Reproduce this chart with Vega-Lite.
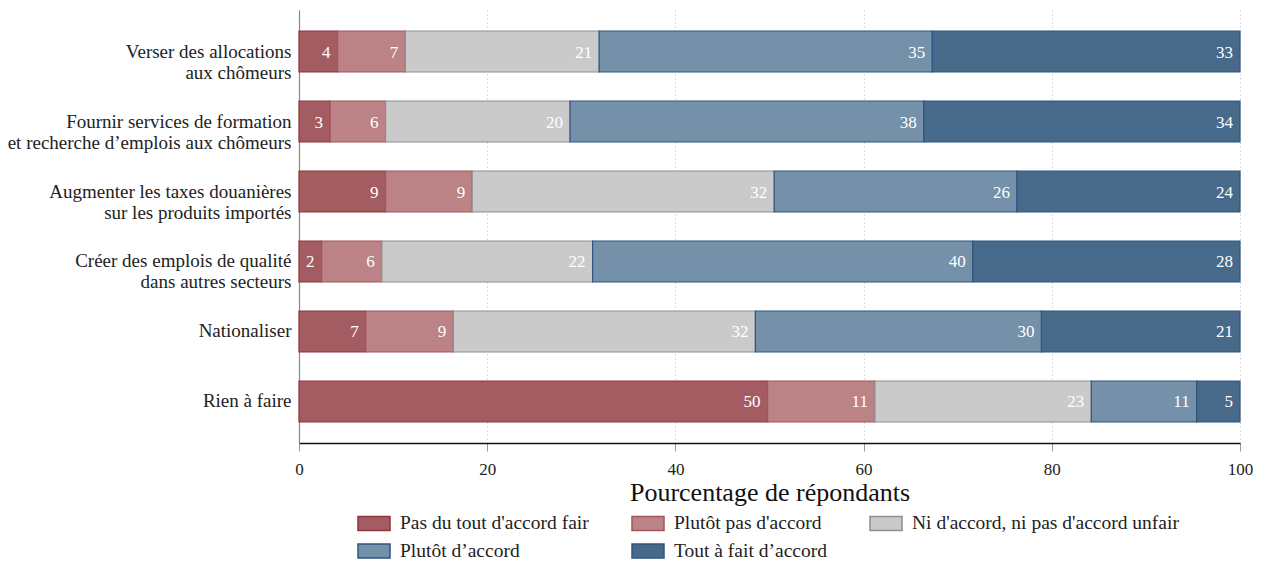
{
  "$schema": "https://vega.github.io/schema/vega-lite/v6.json",
  "width": 941,
  "height": 433,
  "autosize": {"type": "none"},
  "padding": {"left": 299, "top": 10, "right": 22, "bottom": 142},
  "background": "white",
  "data": {
    "values": [
      {"cat": "Verser des allocations\u00a0|aux chômeurs", "resp": "Pas du tout d'accord fair", "o": 1, "value": 4.1},
      {"cat": "Verser des allocations\u00a0|aux chômeurs", "resp": "Plutôt pas d'accord", "o": 2, "value": 7.2},
      {"cat": "Verser des allocations\u00a0|aux chômeurs", "resp": "Ni d'accord, ni pas d'accord unfair", "o": 3, "value": 20.6},
      {"cat": "Verser des allocations\u00a0|aux chômeurs", "resp": "Plutôt d’accord", "o": 4, "value": 35.4},
      {"cat": "Verser des allocations\u00a0|aux chômeurs", "resp": "Tout à fait d’accord", "o": 5, "value": 32.7},
      {"cat": "Fournir services de formation\u00a0|et recherche d’emplois aux chômeurs", "resp": "Pas du tout d'accord fair", "o": 1, "value": 3.3},
      {"cat": "Fournir services de formation\u00a0|et recherche d’emplois aux chômeurs", "resp": "Plutôt pas d'accord", "o": 2, "value": 5.9},
      {"cat": "Fournir services de formation\u00a0|et recherche d’emplois aux chômeurs", "resp": "Ni d'accord, ni pas d'accord unfair", "o": 3, "value": 19.6},
      {"cat": "Fournir services de formation\u00a0|et recherche d’emplois aux chômeurs", "resp": "Plutôt d’accord", "o": 4, "value": 37.6},
      {"cat": "Fournir services de formation\u00a0|et recherche d’emplois aux chômeurs", "resp": "Tout à fait d’accord", "o": 5, "value": 33.6},
      {"cat": "Augmenter les taxes douanières\u00a0|sur les produits importés", "resp": "Pas du tout d'accord fair", "o": 1, "value": 9.2},
      {"cat": "Augmenter les taxes douanières\u00a0|sur les produits importés", "resp": "Plutôt pas d'accord", "o": 2, "value": 9.2},
      {"cat": "Augmenter les taxes douanières\u00a0|sur les produits importés", "resp": "Ni d'accord, ni pas d'accord unfair", "o": 3, "value": 32.1},
      {"cat": "Augmenter les taxes douanières\u00a0|sur les produits importés", "resp": "Plutôt d’accord", "o": 4, "value": 25.8},
      {"cat": "Augmenter les taxes douanières\u00a0|sur les produits importés", "resp": "Tout à fait d’accord", "o": 5, "value": 23.7},
      {"cat": "Créer des emplois de qualité\u00a0|dans autres secteurs", "resp": "Pas du tout d'accord fair", "o": 1, "value": 2.4},
      {"cat": "Créer des emplois de qualité\u00a0|dans autres secteurs", "resp": "Plutôt pas d'accord", "o": 2, "value": 6.4},
      {"cat": "Créer des emplois de qualité\u00a0|dans autres secteurs", "resp": "Ni d'accord, ni pas d'accord unfair", "o": 3, "value": 22.4},
      {"cat": "Créer des emplois de qualité\u00a0|dans autres secteurs", "resp": "Plutôt d’accord", "o": 4, "value": 40.4},
      {"cat": "Créer des emplois de qualité\u00a0|dans autres secteurs", "resp": "Tout à fait d’accord", "o": 5, "value": 28.4},
      {"cat": "Nationaliser", "resp": "Pas du tout d'accord fair", "o": 1, "value": 7.1},
      {"cat": "Nationaliser", "resp": "Plutôt pas d'accord", "o": 2, "value": 9.3},
      {"cat": "Nationaliser", "resp": "Ni d'accord, ni pas d'accord unfair", "o": 3, "value": 32.1},
      {"cat": "Nationaliser", "resp": "Plutôt d’accord", "o": 4, "value": 30.4},
      {"cat": "Nationaliser", "resp": "Tout à fait d’accord", "o": 5, "value": 21.1},
      {"cat": "Rien à faire", "resp": "Pas du tout d'accord fair", "o": 1, "value": 49.8},
      {"cat": "Rien à faire", "resp": "Plutôt pas d'accord", "o": 2, "value": 11.4},
      {"cat": "Rien à faire", "resp": "Ni d'accord, ni pas d'accord unfair", "o": 3, "value": 23.0},
      {"cat": "Rien à faire", "resp": "Plutôt d’accord", "o": 4, "value": 11.2},
      {"cat": "Rien à faire", "resp": "Tout à fait d’accord", "o": 5, "value": 4.6}
    ]
  },
  "transform": [
    {"stack": "value", "groupby": ["cat"], "sort": [{"field": "o", "order": "ascending"}], "as": ["x0", "x1"]}
  ],
  "encoding": {
    "y": {
      "field": "cat",
      "type": "nominal",
      "sort": null,
      "scale": {"paddingInner": 0.414, "paddingOuter": 0.3},
      "axis": {
        "title": null,
        "labelExpr": "split(datum.label, '|')",
        "labelFont": "Liberation Serif",
        "labelFontSize": 19,
        "labelColor": "#222222",
        "labelPadding": 8,
        "labelLineHeight": 21,
        "labelLimit": 400,
        "ticks": false,
        "domainColor": "#888888",
        "domainWidth": 1.2,
        "grid": false
      }
    }
  },
  "layer": [
    {
      "mark": {"type": "bar", "strokeWidth": 1.2},
      "encoding": {
        "x": {
          "field": "x0",
          "type": "quantitative",
          "scale": {"domain": [0, 100], "nice": false, "zero": true},
          "axis": {
            "title": "Pourcentage de répondants",
            "titleFont": "Liberation Serif",
            "titleFontSize": 26,
            "titleFontWeight": "normal",
            "titleColor": "#111111",
            "titlePadding": 2,
            "values": [0, 20, 40, 60, 80, 100],
            "labelFont": "Liberation Serif",
            "labelFontSize": 17,
            "labelColor": "#222222",
            "labelPadding": 10,
            "labelFlush": false,
            "tickColor": "#999999",
            "tickSize": 8,
            "domainColor": "#111111",
            "domainWidth": 1.5,
            "grid": true,
            "gridColor": "#bbbbbb",
            "gridDash": [1, 3],
            "gridWidth": 1
          }
        },
        "x2": {"field": "x1"},
        "fill": {
          "field": "resp",
          "type": "nominal",
          "sort": ["Pas du tout d'accord fair", "Plutôt pas d'accord", "Ni d'accord, ni pas d'accord unfair", "Plutôt d’accord", "Tout à fait d’accord"],
          "scale": {
            "domain": ["Pas du tout d'accord fair", "Plutôt pas d'accord", "Ni d'accord, ni pas d'accord unfair", "Plutôt d’accord", "Tout à fait d’accord"],
            "range": ["#a35d62", "#bc8386", "#cacaca", "#7590a9", "#476a8b"]
          },
          "legend": {"title": null}
        },
        "stroke": {
          "field": "resp",
          "type": "nominal",
          "sort": ["Pas du tout d'accord fair", "Plutôt pas d'accord", "Ni d'accord, ni pas d'accord unfair", "Plutôt d’accord", "Tout à fait d’accord"],
          "scale": {
            "domain": ["Pas du tout d'accord fair", "Plutôt pas d'accord", "Ni d'accord, ni pas d'accord unfair", "Plutôt d’accord", "Tout à fait d’accord"],
            "range": ["#93323d", "#a8535b", "#8f8f8f", "#2e5680", "#2e5680"]
          },
          "legend": {"title": null}
        }
      }
    },
    {
      "mark": {"type": "text", "align": "right", "baseline": "middle", "dx": -7, "dy": 1, "color": "white", "font": "Liberation Serif", "fontSize": 17},
      "encoding": {
        "x": {"field": "x1", "type": "quantitative"},
        "text": {"field": "value", "type": "quantitative", "format": ".0f"}
      }
    }
  ],
  "config": {
    "view": {"stroke": null},
    "legend": {
      "orient": "none",
      "legendX": 58,
      "legendY": 496,
      "direction": "horizontal",
      "columns": 3,
      "columnPadding": 40,
      "rowPadding": -5,
      "symbolType": "M-1,-0.44L1,-0.44L1,0.44L-1,0.44Z",
      "symbolSize": 1024,
      "symbolStrokeWidth": 1.5,
      "symbolOpacity": 1,
      "labelFont": "Liberation Serif",
      "labelFontSize": 19.5,
      "labelColor": "#222222",
      "labelOffset": 9,
      "labelLimit": 400
    }
  }
}
